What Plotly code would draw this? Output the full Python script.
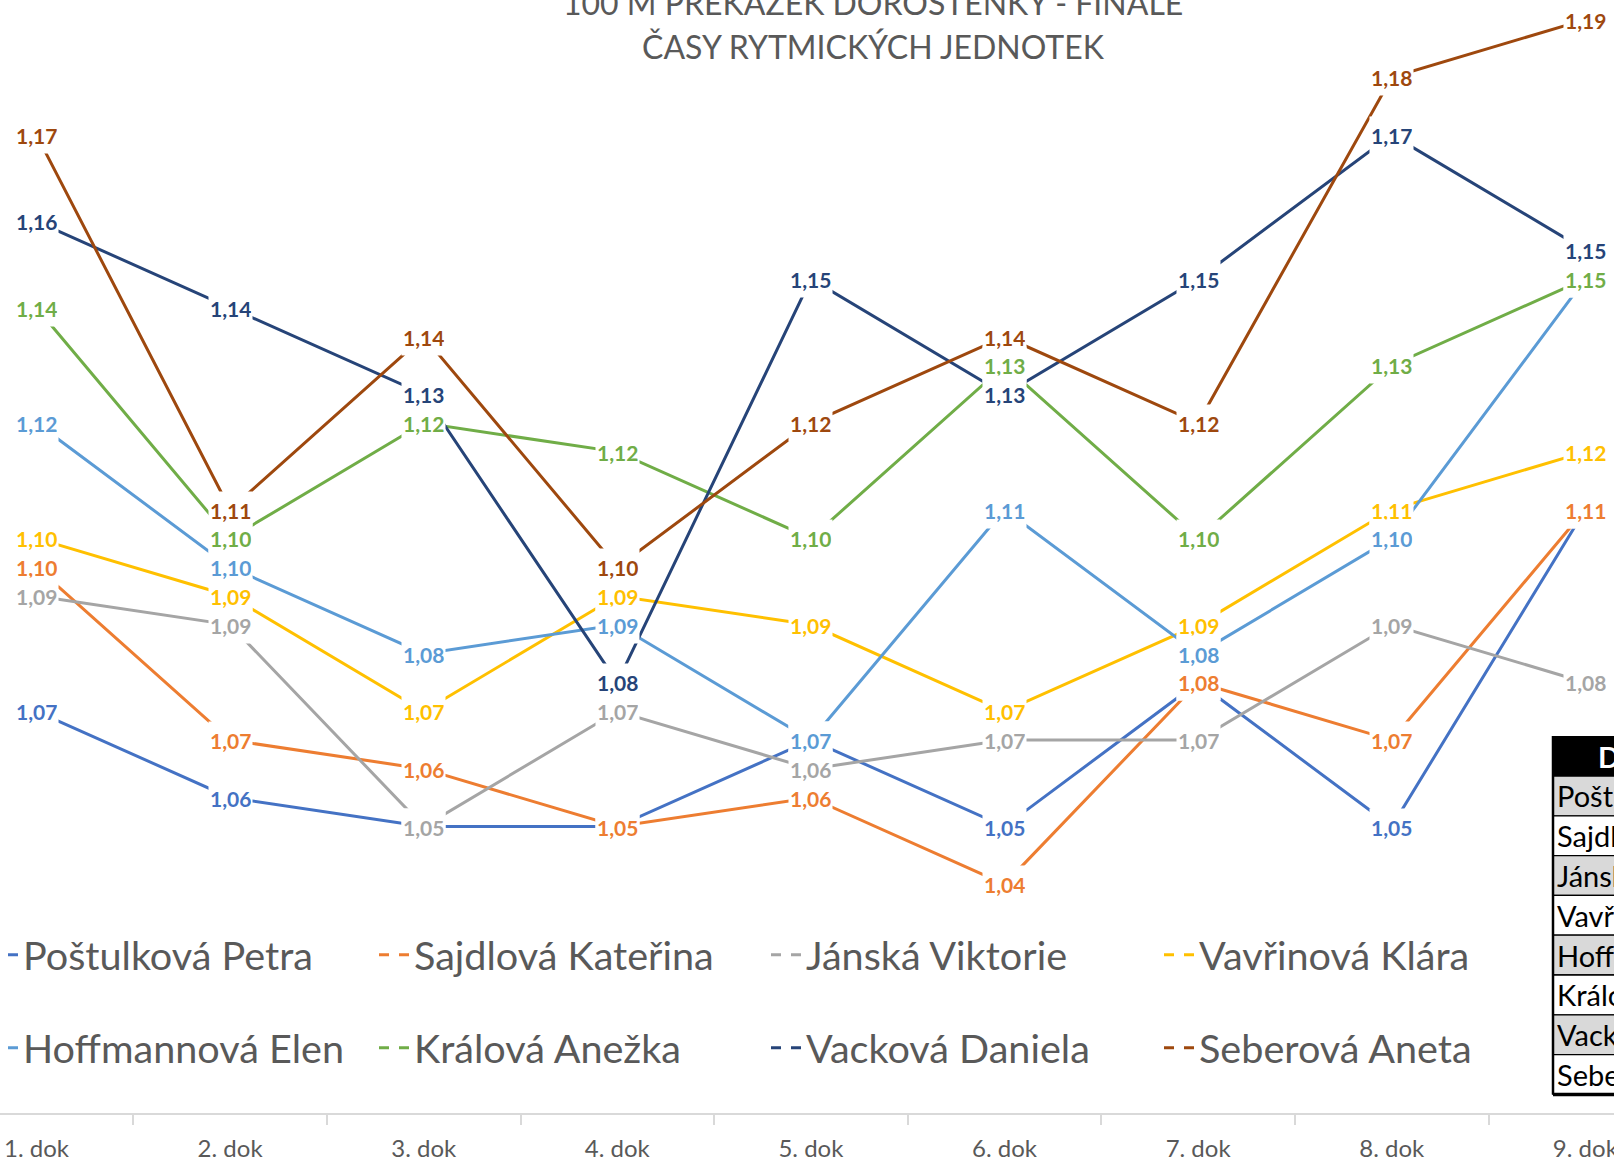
import plotly.graph_objects as go
from decimal import Decimal, ROUND_HALF_UP

# ---------------- data ----------------
categories = ["1. dok", "2. dok", "3. dok", "4. dok", "5. dok", "6. dok", "7. dok", "8. dok", "9. dok"]

names = ["Poštulková Petra", "Sajdlová Kateřina", "Jánská Viktorie", "Vavřinová Klára",
         "Hoffmannová Elen", "Králová Anežka", "Vacková Daniela", "Seberová Aneta"]

postulkova = [1.070, 1.055, 1.050, 1.050, 1.065, 1.050, 1.075, 1.050, 1.105]
sajdlova = [1.095, 1.065, 1.060, 1.050, 1.055, 1.040, 1.075, 1.065, 1.105]
janska = [1.090, 1.085, 1.050, 1.070, 1.060, 1.065, 1.065, 1.085, 1.075]
vavrinova = [1.100, 1.090, 1.070, 1.090, 1.085, 1.070, 1.085, 1.105, 1.115]
hoffmannova = [1.120, 1.095, 1.080, 1.085, 1.065, 1.105, 1.080, 1.100, 1.145]
kralova = [1.140, 1.100, 1.120, 1.115, 1.100, 1.130, 1.100, 1.130, 1.145]
vackova = [1.155, 1.140, 1.125, 1.075, 1.145, 1.125, 1.145, 1.170, 1.150]
seberova = [1.170, 1.105, 1.135, 1.095, 1.120, 1.135, 1.120, 1.180, 1.190]

series_values = [postulkova, sajdlova, janska, vavrinova, hoffmannova, kralova, vackova, seberova]

colors = ["#4472C4", "#ED7D31", "#A5A5A5", "#FFC000", "#5B9BD5", "#70AD47", "#264478", "#9E480E"]

title_line1 = "100 M PŘEKÁŽEK DOROSTENKY - FINÁLE"
title_line2 = "ČASY RYTMICKÝCH JEDNOTEK"
table_header = "D"

# ---------------- geometry helpers ----------------
W, H = 1614, 1160
MB = 47
PH = H - MB


def px_x(p):
    return p / W


def px_y(p):
    return 1 - p / PH


def fmt(v):
    d = Decimal(str(v)).quantize(Decimal("0.01"), rounding=ROUND_HALF_UP)
    return str(d).replace(".", ",")


FONT = "Lato"
GREY_TXT = "#595959"

# legend layout: 2 rows x 4 columns, one legend box per entry
LEG_COL_TEXT_X = [23, 414, 806, 1199]   # where each entry's text starts (px)
LEG_ROW_Y = [955, 1048]                 # row centres (px)
LEG_TEXT_OFFSET = 40                    # plotly: symbol area before the text

fig = go.Figure()
legend_layouts = {}
for i, (name, vals, col) in enumerate(zip(names, series_values, colors)):
    leg_id = "legend" if i == 0 else f"legend{i + 1}"
    fig.add_trace(go.Scatter(
        x=categories, y=vals, name=name, mode="lines+markers",
        line=dict(color=col, width=3),
        marker=dict(symbol="square", size=10, color="white", line=dict(width=0)),
        legend=leg_id,
        hoverinfo="skip",
    ))
    row, colm = divmod(i, 4)
    legend_layouts[leg_id] = dict(
        orientation="h", xanchor="left", yanchor="middle",
        x=px_x(LEG_COL_TEXT_X[colm] - LEG_TEXT_OFFSET), y=px_y(LEG_ROW_Y[row]),
        font=dict(family=FONT, size=39.6, color=GREY_TXT),
        bgcolor="rgba(0,0,0,0)", borderwidth=0,
    )

annotations = []
# data labels (white boxes over the lines, like the Excel labels)
for name, vals, col in zip(names, series_values, colors):
    for c, v in zip(categories, vals):
        annotations.append(dict(
            x=c, y=v, xref="x", yref="y", text=fmt(v), showarrow=False,
            font=dict(family=FONT, size=21, color=col, weight="bold"),
            bgcolor="white", height=34, borderpad=1,
            xanchor="center", yanchor="middle",
        ))

# titles
annotations.append(dict(x=px_x(873), y=px_y(2), xref="paper", yref="paper", text=title_line1,
                        showarrow=False, xanchor="center", yanchor="middle",
                        font=dict(family=FONT, size=32, color=GREY_TXT)))
annotations.append(dict(x=px_x(873), y=px_y(47), xref="paper", yref="paper", text=title_line2,
                        showarrow=False, xanchor="center", yanchor="middle",
                        font=dict(family=FONT, size=32, color=GREY_TXT)))

# data table (cropped at the right edge)
shapes = []
T_LEFT, T_TOP, HDR_H, ROW_H = 1553, 736, 40, 39.8
shapes.append(dict(type="rect", xref="paper", yref="paper",
                   x0=px_x(T_LEFT), x1=px_x(1640), y0=px_y(T_TOP), y1=px_y(T_TOP + HDR_H),
                   fillcolor="black", line=dict(width=0), layer="above"))
annotations.append(dict(x=px_x(1596), y=px_y(T_TOP + HDR_H / 2), xref="paper", yref="paper",
                        text=table_header, showarrow=False, xanchor="left", yanchor="middle",
                        font=dict(family=FONT, size=29, color="white", weight="bold")))
for i, name in enumerate(names):
    y0 = T_TOP + HDR_H + ROW_H * i
    shapes.append(dict(type="rect", xref="paper", yref="paper",
                       x0=px_x(T_LEFT), x1=px_x(1640), y0=px_y(y0), y1=px_y(y0 + ROW_H),
                       fillcolor="#D9D9D9" if i % 2 == 0 else "white",
                       line=dict(color="black", width=1.3), layer="above"))
    annotations.append(dict(x=px_x(T_LEFT + 2), y=px_y(y0 + ROW_H / 2), xref="paper", yref="paper",
                            text=name, showarrow=False, xanchor="left", yanchor="middle",
                            font=dict(family=FONT, size=29, color="black")))
T_BOTTOM = T_TOP + HDR_H + ROW_H * len(names)
shapes.append(dict(type="line", xref="paper", yref="paper",
                   x0=px_x(T_LEFT), x1=px_x(T_LEFT), y0=px_y(T_TOP), y1=px_y(T_BOTTOM),
                   line=dict(color="black", width=2.5), layer="above"))
shapes.append(dict(type="line", xref="paper", yref="paper",
                   x0=px_x(T_LEFT), x1=px_x(1640), y0=px_y(T_BOTTOM), y1=px_y(T_BOTTOM),
                   line=dict(color="black", width=3.5), layer="above"))

fig.update_layout(
    width=W, height=H,
    margin=dict(l=0, r=0, t=0, b=MB, pad=0, autoexpand=False),
    paper_bgcolor="white", plot_bgcolor="white",
    showlegend=True,
    xaxis=dict(
        type="category", categoryorder="array", categoryarray=categories,
        range=[-0.1885, 8.148],
        showline=True, linecolor="#D9D9D9", linewidth=2,
        ticks="outside", tickson="boundaries", ticklen=10, tickcolor="#D9D9D9", tickwidth=1.5,
        tickfont=dict(family=FONT, size=24, color=GREY_TXT),
        ticklabelstandoff=13,
        showgrid=False, zeroline=False, fixedrange=True,
    ),
    yaxis=dict(range=[1.0003, 1.1934], visible=False, fixedrange=True),
    annotations=annotations,
    shapes=shapes,
    hovermode=False,
    **legend_layouts,
)

fig.write_html(
    "out.html",
    config={"displayModeBar": False},
    post_script="document.body.style.margin='0';document.body.style.overflow='hidden';",
)
